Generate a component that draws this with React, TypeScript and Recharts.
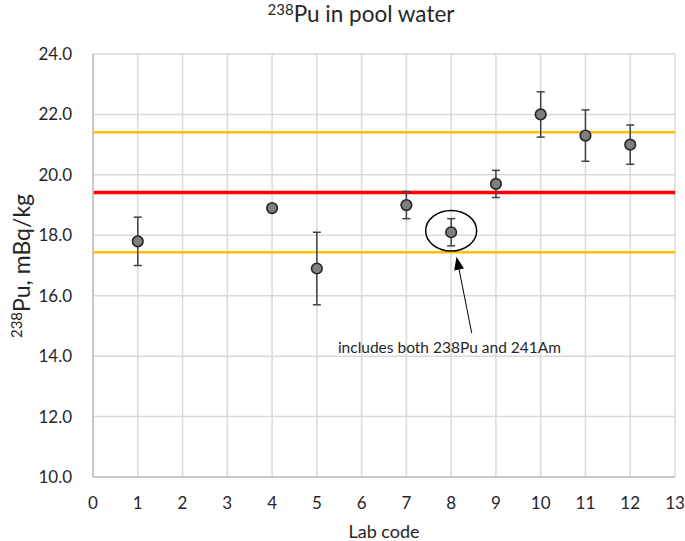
import { ComposedChart, Scatter, ErrorBar, XAxis, YAxis, CartesianGrid, ReferenceLine, ReferenceDot } from 'recharts';

const labCodes = [1, 4, 5, 7, 8, 9, 10, 11, 12];
const labValues = [17.8, 18.9, 16.9, 19.0, 18.1, 19.7, 22.0, 21.3, 21.0];
const labUncertainty = [0.8, 0.1, 1.2, 0.45, 0.45, 0.45, 0.75, 0.85, 0.65];

const assignedValue = 19.42;
const upperLimit = 21.41;
const lowerLimit = 17.44;

const xTicks = [0, 1, 2, 3, 4, 5, 6, 7, 8, 9, 10, 11, 12, 13];
const yTicks = [10, 12, 14, 16, 18, 20, 22, 24];

// annotation around lab 8
const circledPoint = { x: 8, y: 18.15 };
const arrowFrom = { x: 8.46, y: 14.76 };
const arrowTo = { x: 8.12, y: 17.29 };
const noteAt = { x: 5.47, y: 14.1 };
const noteText = 'includes both 238Pu and 241Am';

const data = labCodes.map((lab, i) => ({ lab, value: labValues[i], err: labUncertainty[i] }));

const FONT = 'Lato, "Open Sans", sans-serif';
const tickStyle = { fontSize: 17, fill: '#262626', fontFamily: FONT };

const Marker = (p: any) => (
  <circle cx={p.cx} cy={p.cy} r={5.3} fill="#7f7f7f" stroke="#262626" strokeWidth={1.6} />
);

const Arrow = (p: any) => {
  const { x1, y1, x2, y2 } = p;
  const ang = Math.atan2(y2 - y1, x2 - x1);
  const len = 13, hw = 5;
  const bx = x2 - len * Math.cos(ang), by = y2 - len * Math.sin(ang);
  const nx = -Math.sin(ang) * hw, ny = Math.cos(ang) * hw;
  return (
    <g>
      <line x1={x1} y1={y1} x2={bx} y2={by} stroke="#000" strokeWidth={1} />
      <polygon points={`${x2},${y2} ${bx + nx},${by + ny} ${bx - nx},${by - ny}`} fill="#000" />
    </g>
  );
};

export default function App() {
  return (
    <div style={{ position: 'absolute', left: 0, top: 0, width: 685, height: 541, background: '#fff', fontFamily: FONT }}>
      <div style={{ position: 'absolute', left: 211, width: 300, top: 1, lineHeight: '26px', textAlign: 'center', fontSize: 22.5, color: '#262626' }}>
        <span style={{ fontSize: 15, position: 'relative', top: -7 }}>238</span>Pu in pool water
      </div>
      <div style={{ position: 'absolute', left: 21, top: 266, transform: 'translate(-50%, -50%) rotate(-90deg)', whiteSpace: 'nowrap', fontSize: 23, color: '#262626' }}>
        <sup style={{ fontSize: 15 }}>238</sup>Pu, mBq/kg
      </div>
      <ComposedChart width={685} height={541} data={data} margin={{ top: 54, right: 10, bottom: 0, left: 0 }}>
        <CartesianGrid stroke="#d9d9d9" strokeWidth={1.5} />
        <XAxis
          type="number"
          dataKey="lab"
          domain={[0, 13]}
          ticks={xTicks}
          interval={0}
          height={64}
          tickLine={false}
          tickMargin={14}
          axisLine={{ stroke: '#bfbfbf', strokeWidth: 1.5 }}
          tick={tickStyle}
          label={{ value: 'Lab code', position: 'insideBottom', offset: 3, style: { fontSize: 18, fill: '#262626', fontFamily: FONT } }}
        />
        <YAxis
          type="number"
          domain={[10, 24]}
          ticks={yTicks}
          interval={0}
          width={93}
          tickLine={false}
          tickMargin={15}
          axisLine={{ stroke: '#bfbfbf', strokeWidth: 1.5 }}
          tick={tickStyle}
          tickFormatter={(v: number) => v.toFixed(1)}
        />
        <ReferenceLine y={upperLimit} stroke="#ffc000" strokeWidth={2.5} />
        <ReferenceLine y={lowerLimit} stroke="#ffc000" strokeWidth={2.5} />
        <ReferenceLine y={assignedValue} stroke="#ff0000" strokeWidth={3.5} />
        <Scatter dataKey="value" shape={Marker} isAnimationActive={false}>
          <ErrorBar dataKey="err" direction="y" width={4} stroke="#404040" strokeWidth={1.5} />
        </Scatter>
        <ReferenceDot
          x={circledPoint.x}
          y={circledPoint.y}
          shape={(p: any) => <ellipse cx={p.cx} cy={p.cy} rx={25.5} ry={20.3} fill="none" stroke="#000" strokeWidth={1.5} />}
        />
        <ReferenceLine segment={[arrowFrom, arrowTo]} shape={Arrow} />
        <ReferenceDot
          x={noteAt.x}
          y={noteAt.y}
          shape={(p: any) => (
            <text x={p.cx} y={p.cy} fontSize={15.5} fill="#262626" fontFamily={FONT}>{noteText}</text>
          )}
        />
      </ComposedChart>
    </div>
  );
}
